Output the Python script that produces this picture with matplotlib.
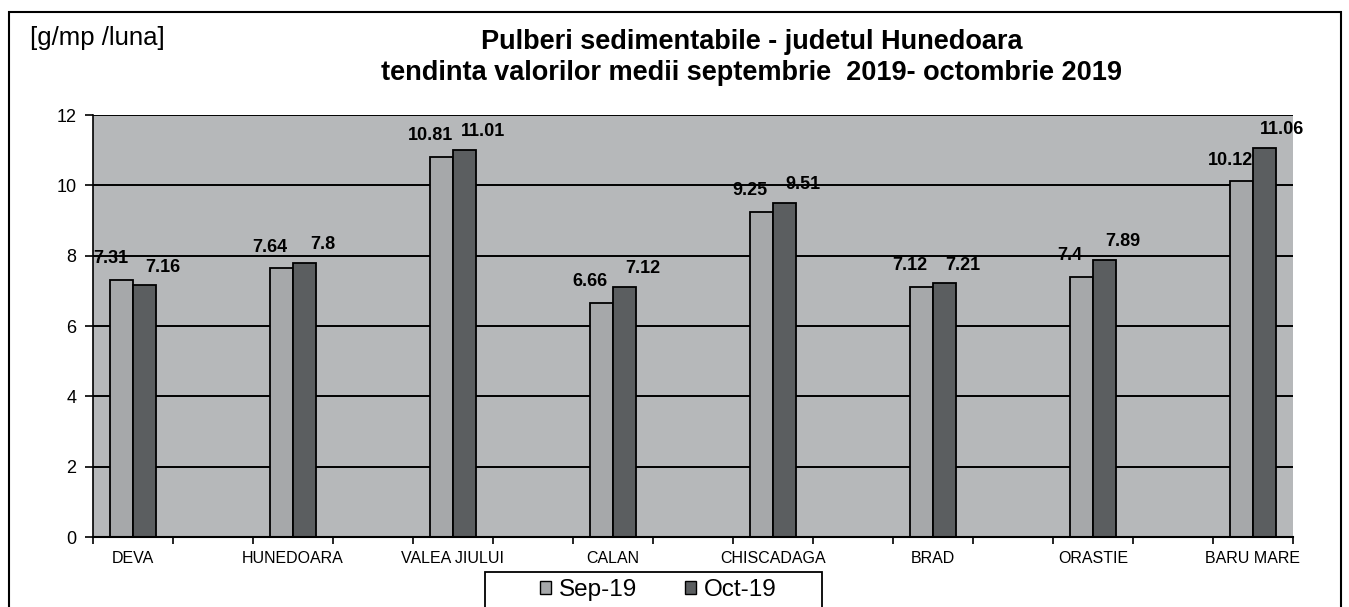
import matplotlib.pyplot as plt
import matplotlib.patches as patches
import numpy as np

statii = ['DEVA', 'HUNEDOARA', 'VALEA JIULUI', 'CALAN', 'CHISCADAGA', 'BRAD', 'ORASTIE', 'BARU MARE']
sep19 = [7.31, 7.64, 10.81, 6.66, 9.25, 7.12, 7.4, 10.12]
oct19 = [7.16, 7.8, 11.01, 7.12, 9.51, 7.21, 7.89, 11.06]
serii = ['Sep-19', 'Oct-19']

plt.rcParams['font.family'] = ['Liberation Sans', 'DejaVu Sans']

fig = plt.figure(figsize=(13.49, 6.07), dpi=100)
ax = fig.add_axes([0.0689, 0.1153, 0.8895, 0.6952])

x = np.arange(len(statii))
w = 0.144
ax.set_axisbelow(True)
ax.set_facecolor('#b6b8ba')
ax.yaxis.grid(True, color='black', linewidth=1.4)
ax.bar(x - w/2, sep19, w, color='#a6a8aa', edgecolor='black', linewidth=1.3, label=serii[0])
ax.bar(x + w/2, oct19, w, color='#5b5e60', edgecolor='black', linewidth=1.3, label=serii[1])

for xi, v in zip(x, sep19):
    ax.annotate(f'{v:g}', (xi - w/2, v), xytext=(-8, 9), textcoords='offset points',
                ha='center', va='bottom', fontsize=13, fontweight='bold')
for xi, v in zip(x, oct19):
    ax.annotate(f'{v:g}', (xi + w/2, v), xytext=(13, 7), textcoords='offset points',
                ha='center', va='bottom', fontsize=13, fontweight='bold')

ax.set_xlim(-0.25, len(statii) - 0.75)
ax.set_ylim(0, 12)
ax.set_yticks(range(0, 13, 2))
ax.tick_params(axis='y', labelsize=13, length=6, width=1.2, pad=6)
# tick marks every half category, labels at the category centres
ax.set_xticks(np.arange(-0.25, len(statii) - 0.7, 0.5))
ax.set_xticklabels([])
ax.tick_params(axis='x', which='major', length=5, width=1.2)
ax.set_xticks(x, minor=True)
ax.set_xticklabels(statii, minor=True, fontsize=11.5)
ax.tick_params(axis='x', which='minor', length=0, pad=10)
for s in ['top', 'right']:
    ax.spines[s].set_visible(False)
ax.spines['left'].set_linewidth(1.2)
ax.spines['bottom'].set_linewidth(1.5)

fig.text(0.557, 0.93, 'Pulberi sedimentabile - judetul Hunedoara', ha='center',
         va='center', fontsize=19.5, fontweight='bold')
fig.text(0.557, 0.879, 'tendinta valorilor medii septembrie  2019- octombrie 2019', ha='center',
         va='center', fontsize=19.5, fontweight='bold')
fig.text(0.022, 0.937, '[g/mp /luna]', ha='left', va='center', fontsize=18.5)

leg = fig.legend(loc='center', bbox_to_anchor=(0.488, 0.028), ncol=2, fontsize=17.5,
                 frameon=False, handlelength=0.45, handleheight=0.45, handletextpad=0.3,
                 columnspacing=2.0, borderpad=0.2)
for h in leg.legend_handles:
    h.set_edgecolor('black')
    h.set_linewidth(1.0)

# legend box (runs off the bottom edge like the scan)
fig.patches.append(patches.Rectangle((0.3595, -0.05), 0.25, 0.1077, transform=fig.transFigure,
                                     fill=False, edgecolor='black', linewidth=1.3))
# outer frame of the chart
fig.patches.append(patches.Rectangle((0.0067, -0.05), 0.9874, 1.03, transform=fig.transFigure,
                                     fill=False, edgecolor='black', linewidth=1.5))

plt.savefig('out.png', dpi=100)
